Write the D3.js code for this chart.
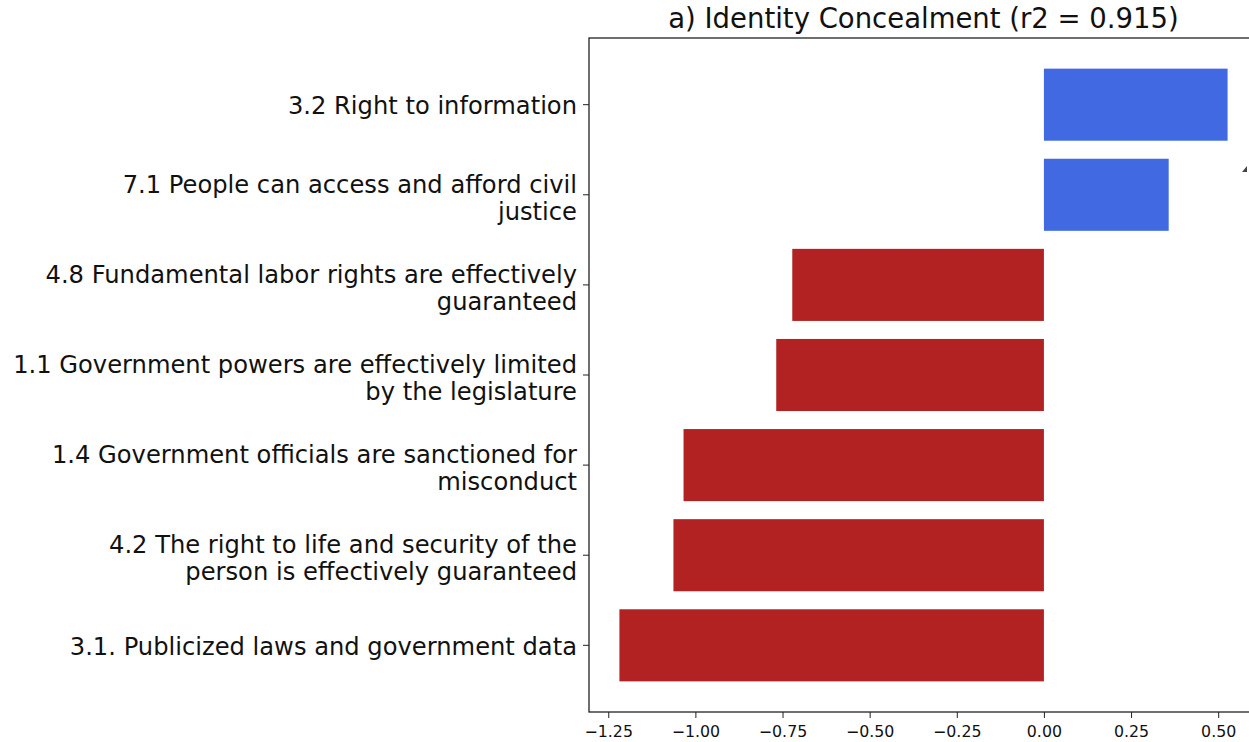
<!DOCTYPE html>
<html>
<head>
<meta charset="utf-8">
<script src="https://cdn.jsdelivr.net/npm/d3@7"></script>
<style>
  html, body { margin: 0; padding: 0; background: #fff; }
  svg { display: block; font-family: "DejaVu Sans", sans-serif; }
</style>
</head>
<body>
<svg id="chart" width="1249" height="742"></svg>
<script>
// Category labels (top to bottom), each as its wrapped lines
const categories = [
  ["3.2 Right to information"],
  ["7.1 People can access and afford civil", "justice"],
  ["4.8 Fundamental labor rights are effectively", "guaranteed"],
  ["1.1 Government powers are effectively limited", "by the legislature"],
  ["1.4 Government officials are sanctioned for", "misconduct"],
  ["4.2 The right to life and security of the", "person is effectively guaranteed"],
  ["3.1. Publicized laws and government data"]
];
// Coefficient for each category
const values = [0.527, 0.358, -0.722, -0.768, -1.034, -1.063, -1.218];
const xTicks = [-1.25, -1.00, -0.75, -0.50, -0.25, 0.00, 0.25, 0.50];
const title = "a) Identity Concealment (r2 = 0.915)";

const svg = d3.select("#chart");
const plot = { left: 589, right: 1258, top: 38, bottom: 712 };

// 5% padding around the data, as in a default matplotlib axes
const lo = d3.min(values), hi = d3.max(values);
const pad = (hi - lo) * 0.05;
const x = d3.scaleLinear().domain([lo - pad, hi + pad]).range([plot.left, plot.right]);
const n = categories.length;
const yPad = (n - 1 + 0.8) * 0.05;
const y = d3.scaleLinear().domain([-0.4 - yPad, n - 1 + 0.4 + yPad]).range([plot.top, plot.bottom]);

// Bars
svg.append("g").selectAll("rect")
  .data(values)
  .join("rect")
  .attr("x", d => Math.min(x(0), x(d)))
  .attr("width", d => Math.abs(x(d) - x(0)))
  .attr("y", (d, i) => y(i - 0.4))
  .attr("height", (d, i) => y(i + 0.4) - y(i - 0.4))
  .attr("fill", d => d >= 0 ? "#4169e1" : "#b22222");

// Frame (spines)
svg.append("rect")
  .attr("x", plot.left).attr("y", plot.top)
  .attr("width", plot.right - plot.left).attr("height", plot.bottom - plot.top)
  .attr("fill", "none").attr("stroke", "#222").attr("stroke-width", 1.3);

// Small clipped marker at the right edge
svg.append("path")
  .attr("d", "M1242,172 L1247,166 L1247,172 Z")
  .attr("fill", "#444");

// X axis
const xAxis = d3.axisBottom(x)
  .tickValues(xTicks)
  .tickFormat(d3.format(".2f"))
  .tickSize(6)
  .tickPadding(8);
const gx = svg.append("g")
  .attr("transform", `translate(0,${plot.bottom})`)
  .call(xAxis);
gx.select(".domain").remove();
gx.selectAll(".tick line").attr("stroke", "#222").attr("stroke-width", 1);
gx.selectAll(".tick text")
  .attr("font-family", "DejaVu Sans, sans-serif")
  .attr("font-size", 15.8)
  .attr("fill", "#111");

// Y axis ticks and wrapped labels
const gy = svg.append("g");
categories.forEach((lines, i) => {
  const cy = y(i);
  gy.append("line")
    .attr("x1", plot.left - 6).attr("x2", plot.left)
    .attr("y1", cy).attr("y2", cy)
    .attr("stroke", "#222").attr("stroke-width", 1);
  const lh = 27.5;
  const shift = lines.length > 1 ? 3 : 1;
  const t = gy.append("text")
    .attr("text-anchor", "end")
    .attr("font-size", 24.2)
    .attr("fill", "#111");
  lines.forEach((ln, j) => {
    t.append("tspan")
      .attr("x", plot.left - 12)
      .attr("y", cy + shift + (j - (lines.length - 1) / 2) * lh)
      .attr("dy", "0.35em")
      .text(ln);
  });
});

// Title
svg.append("text")
  .attr("x", (plot.left + plot.right) / 2)
  .attr("y", 28)
  .attr("text-anchor", "middle")
  .attr("font-size", 27.5)
  .attr("fill", "#111")
  .text(title);
</script>
</body>
</html>
